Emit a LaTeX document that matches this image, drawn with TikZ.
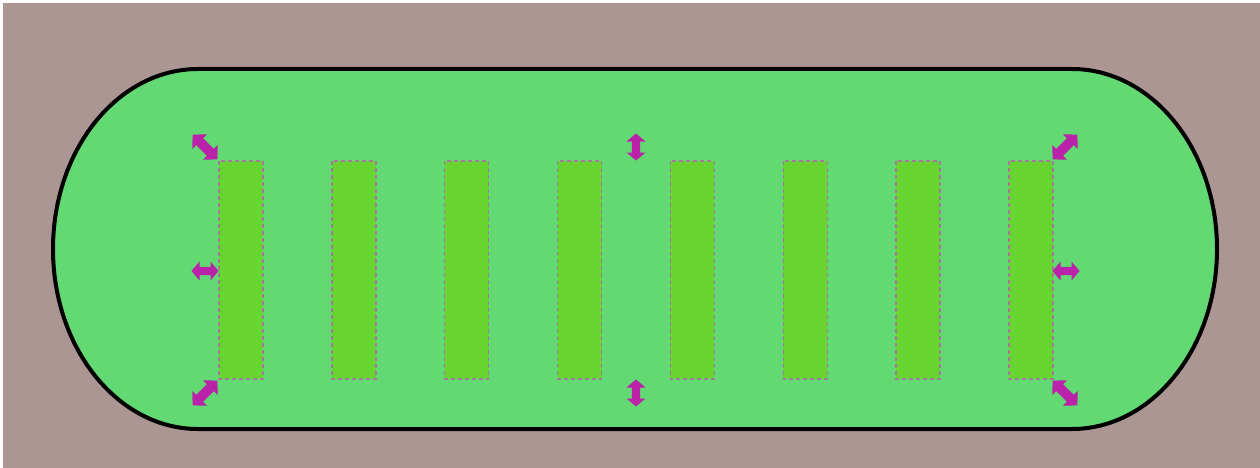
\documentclass[tikz,border=0pt]{standalone}
\definecolor{bgc}{HTML}{AC9694}
\definecolor{stad}{HTML}{62D973}
\definecolor{barc}{HTML}{66D52F}
\definecolor{magc}{HTML}{BA22AA}
\definecolor{dashc}{HTML}{A6789C}
\tikzset{
  barbox/.style={fill=barc, draw=dashc, line width=1.4pt, dash pattern=on 4pt off 3pt},
  handlefill/.style={fill=magc},
}
\newcommand\handleaxis[3]{%
  \fill[handlefill, shift={(#1,#2)}, rotate=#3]
    (-13.5,0) -- (-5.5,9.5) -- (-5.5,4.2) -- (5.5,4.2) -- (5.5,9.5) -- (13.5,0) -- (5.5,-9.5) -- (5.5,-4.2) -- (-5.5,-4.2) -- (-5.5,-9.5) -- cycle;}
\newcommand\handlediag[3]{%
  \fill[handlefill, shift={(#1,#2)}, rotate=#3]
    (-17.5,0) -- (-7.5,10.5) -- (-7.5,4.8) -- (7.5,4.8) -- (7.5,10.5) -- (17.5,0) -- (7.5,-10.5) -- (7.5,-4.8) -- (-7.5,-4.8) -- (-7.5,-10.5) -- cycle;}
\begin{document}
\begin{tikzpicture}[x=1pt,y=-1pt]
\useasboundingbox (0,0) rectangle (1260,468);
\fill[white] (0,0) rectangle (1260,468);
\fill[bgc] (3,3) rectangle (1260,468);
% stadium
\draw[line width=4pt, fill=stad] (198,69) -- (1072,69)
  arc[start angle=90, end angle=-90, x radius=145pt, y radius=180pt]
  -- (198,429)
  arc[start angle=270, end angle=90, x radius=145pt, y radius=180pt] -- cycle;
% bars
\foreach \i in {0,...,7} {
  \pgfmathsetmacro\xl{219+\i*112.86}
  \path[barbox] (\xl,161) rectangle ++(44,218);
}
% handles
\handlediag{205}{147}{-45}
\handlediag{1065}{147}{45}
\handlediag{205}{393}{45}
\handlediag{1065}{393}{-45}
\handleaxis{636}{147}{90}
\handleaxis{636}{393}{90}
\handleaxis{205}{271}{0}
\handleaxis{1066}{271}{0}
\end{tikzpicture}
\end{document}
